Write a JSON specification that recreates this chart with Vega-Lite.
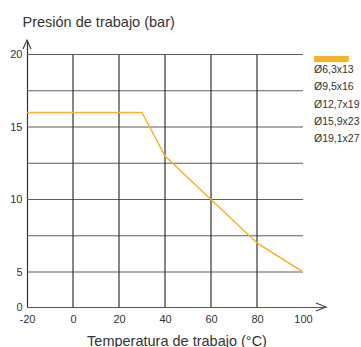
{
  "$schema": "https://vega.github.io/schema/vega-lite/v6.json",
  "width": 299,
  "height": 267,
  "autosize": {"type": "none"},
  "padding": {"left": 27, "top": 40, "right": 35, "bottom": 40},
  "background": "white",
  "config": {
    "font": "Liberation Sans",
    "view": {"stroke": null},
    "axis": {"labelFont": "Liberation Sans", "titleFont": "Liberation Sans", "labelColor": "#333", "titleColor": "#333"}
  },
  "datasets": {
    "curve": [
      {"t": -20, "p": 16, "s": "serie"},
      {"t": 30, "p": 16, "s": "serie"},
      {"t": 40, "p": 13, "s": "serie"},
      {"t": 60, "p": 10, "s": "serie"},
      {"t": 80, "p": 7, "s": "serie"},
      {"t": 100, "p": 5, "s": "serie"}
    ],
    "hgrid": [{"p": 5}, {"p": 7.5}, {"p": 10}, {"p": 12.5}, {"p": 15}, {"p": 17.5}, {"p": 20}],
    "vgrid": [{"t": 0}, {"t": 20}, {"t": 40}, {"t": 60}, {"t": 80}],
    "xarrow": [{"t": 110, "p": 0}],
    "yarrow": [{"t": -20, "p": 21}]
  },
  "layer": [
    {
      "data": {"name": "hgrid"},
      "mark": {"type": "rule", "color": "#5e5e5e", "strokeWidth": 1.2},
      "encoding": {
        "y": {"field": "p", "type": "quantitative", "scale": {"domain": [0, 5, 21], "range": [267, 232, 0], "nice": false, "zero": false}},
        "x": {"datum": -20, "type": "quantitative", "scale": {"domain": [-20, 110], "nice": false, "zero": false}},
        "x2": {"datum": 100}
      }
    },
    {
      "data": {"name": "vgrid"},
      "mark": {"type": "rule", "color": "#333", "strokeWidth": 1.2},
      "encoding": {
        "x": {"field": "t", "type": "quantitative"},
        "y": {"datum": 0, "type": "quantitative"},
        "y2": {"datum": 20}
      }
    },
    {
      "data": {"name": "curve"},
      "mark": {"type": "line", "strokeWidth": 1.5},
      "encoding": {
        "x": {
          "field": "t", "type": "quantitative",
          "axis": {
            "values": [-20, 0, 20, 40, 60, 80, 100], "ticks": false, "grid": false,
            "domainColor": "#555", "domainWidth": 1.2, "labelFontSize": 11, "labelPadding": 6,
            "labelFlush": false,
            "labelExpr": "datum.value < 0 ? '-' + abs(datum.value) : datum.label",
            "title": "Temperatura de trabajo (°C)", "titleFontSize": 14.5, "titleFontWeight": "normal",
            "titleBaseline": "alphabetic", "titleY": 38
          }
        },
        "y": {
          "field": "p", "type": "quantitative",
          "axis": {
            "values": [0, 5, 10, 15, 20], "ticks": false, "grid": false,
            "domainColor": "#333", "domainWidth": 1.2, "labelFontSize": 11, "labelPadding": 5,
            "labelFlush": false,
            "title": "Presión de trabajo (bar)", "titleFontSize": 14.5, "titleFontWeight": "normal",
            "titleAngle": 0, "titleAlign": "left", "titleBaseline": "alphabetic",
            "titleX": -5, "titleY": -14
          }
        },
        "color": {
          "field": "s", "type": "nominal",
          "scale": {"range": ["#F7B32B"]},
          "legend": {
            "orient": "none", "legendX": 287, "legendY": 16,
            "symbolType": "M-1,-1L10.6,-1L10.6,1L-1,1Z", "symbolSize": 36,
            "labelExpr": "''", "labelFontSize": 6,
            "title": ["Ø6,3x13", "Ø9,5x16", "Ø12,7x19", "Ø15,9x23", "Ø19,1x27"],
            "titleOrient": "bottom", "titleAlign": "left", "titleFontSize": 10.5,
            "titleFontWeight": "normal", "titleColor": "#333", "titleLineHeight": 17.3,
            "titlePadding": 3, "titleFont": "Liberation Sans",
            "encode": {"symbols": {"update": {"fill": {"value": "#F7B32B"}, "stroke": {"value": "#F7B32B"}, "strokeWidth": {"value": 0}}}}
          }
        }
      }
    },
    {
      "data": {"name": "xarrow"},
      "mark": {"type": "point", "shape": "M-2,-0.8L0,0L-2,0.8", "size": 100, "filled": false, "stroke": "#444", "strokeWidth": 1.1, "opacity": 1},
      "encoding": {"x": {"field": "t", "type": "quantitative"}, "y": {"field": "p", "type": "quantitative"}}
    },
    {
      "data": {"name": "yarrow"},
      "mark": {"type": "point", "shape": "M-0.8,1.8L0,0L0.8,1.8", "size": 100, "filled": false, "stroke": "#333", "strokeWidth": 1.1, "opacity": 1},
      "encoding": {"x": {"field": "t", "type": "quantitative"}, "y": {"field": "p", "type": "quantitative"}}
    }
  ]
}
